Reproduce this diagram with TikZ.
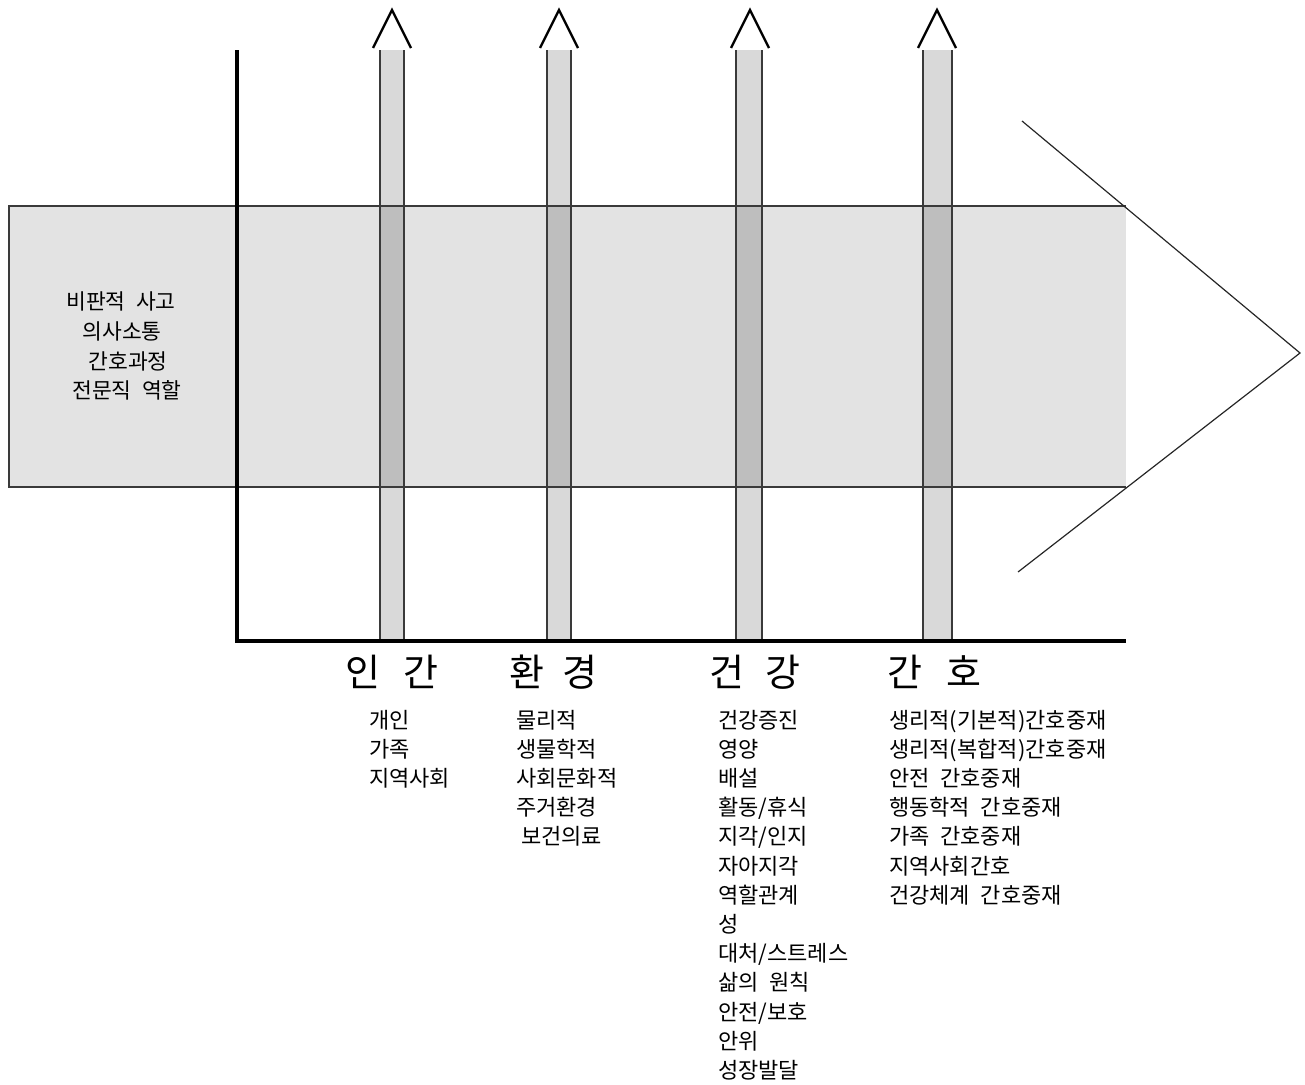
\documentclass[tikz,border=0pt]{standalone}
\usepackage{fontspec}
\newfontfamily\kr[WordSpace=2.2]{Noto Sans CJK KR}
\definecolor{bandfill}{HTML}{E3E3E3}
\definecolor{barfill}{HTML}{D9D9D9}
\definecolor{bardark}{HTML}{BEBEBE}
\definecolor{edgegray}{HTML}{3A3A3A}
\begin{document}
\begin{tikzpicture}[x=1pt,y=-1pt,
  bandtext/.style={font=\kr\fontsize{21.5}{24}\selectfont, inner sep=0pt, anchor=base},
  headtext/.style={font=\kr\fontsize{38}{40}\selectfont, inner sep=0pt, anchor=base west},
  itemtext/.style={font=\kr\fontsize{22}{24}\selectfont, inner sep=0pt, anchor=base west},
  barline/.style={draw=edgegray, line width=1.6pt},
  chevron/.style={draw=black, line width=2.4pt, line join=miter},
  axisline/.style={draw=black, line width=3.6pt},
  arrowline/.style={draw=black!85, line width=1.2pt}]
\useasboundingbox (0,0) rectangle (1305,1084);

% band
\fill[bandfill] (9,206) rectangle (1126,487);

% bars
\foreach \xa/\xb/\n in {380/404/1, 547/571/2, 736/762/3, 923/952/4}{
  \fill[barfill] (\xa,50) rectangle (\xb,641);
  \fill[bardark] (\xa,206) rectangle (\xb,487);
}

% band outline (top, left, bottom)
\draw[edgegray, line width=1.5pt] (1126,206) -- (9,206) -- (9,487) -- (1126,487);

% bar borders
\foreach \xa/\xb/\n in {380/404/1, 547/571/2, 736/762/3, 923/952/4}{
  \draw[barline] (\xa,50) -- (\xa,641);
  \draw[barline] (\xb,50) -- (\xb,641);
}

% chevrons on top of bars
\foreach \c/\n in {392/1, 559/2, 750/3, 937/4}{
  \coordinate (apex\n) at (\c,10);
  \coordinate (cl\n) at (\c-19,48);
  \coordinate (cr\n) at (\c+19,48);
  \draw[chevron] (cl\n) -- (apex\n) -- (cr\n);
}

% axes
\coordinate (axtop) at (237,50);
\coordinate (axorig) at (237,641);
\coordinate (axend) at (1126,641);
\draw[axisline] (axtop) -- (axorig) -- (axend);

% big arrow head lines
\coordinate (ahtop) at (1022,121);
\coordinate (ahtip) at (1300,353);
\coordinate (ahbot) at (1018,572);
\draw[arrowline] (ahtop) -- (ahtip) -- (ahbot);

% band text
\node[bandtext] (b1) at (121,309.5) {비판적 사고};
\node[bandtext] (b2) at (122,339.5) {의사소통};
\node[bandtext] (b3) at (128,369.5) {간호과정};
\node[bandtext] (b4) at (127,398) {전문직 역할};

% headers
\node[headtext] (hA) at (345,686) {인\hspace{23pt}간};
\node[headtext] (hB) at (509,686) {환\hspace{18pt}경};
\node[headtext] (hC) at (709,686) {건\hspace{21pt}강};
\node[headtext] (hD) at (887,686) {간\hspace{24pt}호};

% lists
\foreach \t [count=\i] in {개인,가족,지역사회}
  \node[itemtext] (lA\i) at (369,{728+29.2*(\i-1)}) {\t};
\foreach \t [count=\i] in {물리적,생물학적,사회문화적,주거환경}
  \node[itemtext] (lB\i) at (516,{728+29.2*(\i-1)}) {\t};
\node[itemtext] (lB5) at (521,{728+29.2*4}) {보건의료};
\foreach \t [count=\i] in {건강증진,영양,배설,활동/휴식,지각/인지,자아지각,역할관계,성,대처/스트레스,{삶의 원칙},안전/보호,안위,성장발달}
  \node[itemtext] (lC\i) at (718,{728+29.2*(\i-1)}) {\t};
\foreach \t [count=\i] in {{생리적(기본적)간호중재},{생리적(복합적)간호중재},{안전 간호중재},{행동학적 간호중재},{가족 간호중재},{지역사회간호},{건강체계 간호중재}}
  \node[itemtext] (lD\i) at (889,{728+29.2*(\i-1)}) {\t};
\end{tikzpicture}
\end{document}
